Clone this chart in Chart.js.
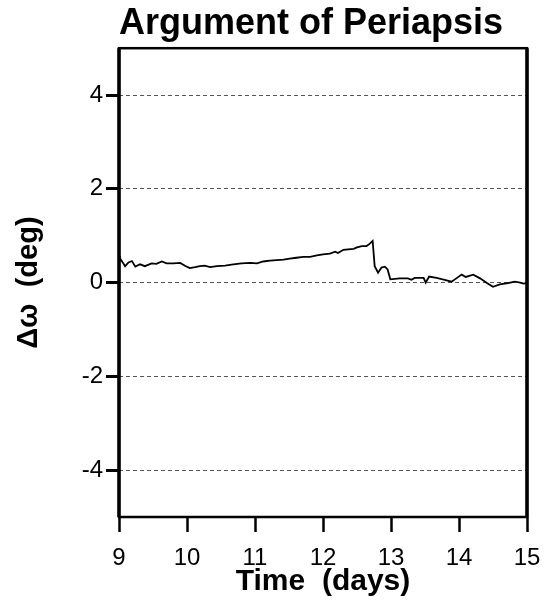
<!DOCTYPE html>
<html>
<head>
<meta charset="utf-8">
<title>Argument of Periapsis</title>
<script src="https://cdn.jsdelivr.net/npm/chart.js@4/dist/chart.umd.min.js"></script>
<style>
  html, body { margin: 0; padding: 0; background: #fff; }
  canvas { display: block; }
</style>
</head>
<body>
<canvas id="grafico" width="545" height="600"></canvas>
<script>
// time in days and change of the argument of periapsis (deg)
const dias = [9.0, 9.01, 9.09, 9.14, 9.19, 9.24, 9.31, 9.38, 9.48, 9.55, 9.63, 9.70, 9.80, 9.90, 9.97,
  10.04, 10.12, 10.19, 10.26, 10.34, 10.44, 10.56, 10.68, 10.80, 10.93, 11.03, 11.12, 11.22, 11.32,
  11.42, 11.51, 11.61, 11.71, 11.81, 11.91, 12.00, 12.10, 12.18, 12.22, 12.30, 12.37, 12.45, 12.50,
  12.57, 12.64, 12.68, 12.73, 12.76, 12.81, 12.86, 12.91, 12.95, 12.99, 13.13, 13.25, 13.30, 13.35,
  13.48, 13.51, 13.56, 13.67, 13.79, 13.89, 13.96, 14.04, 14.10, 14.21, 14.31, 14.41, 14.50, 14.60,
  14.72, 14.82, 14.90, 14.95, 15.0];
const deltaOmega = [0.57, 0.53, 0.35, 0.43, 0.46, 0.34, 0.39, 0.35, 0.41, 0.40, 0.45, 0.41, 0.41, 0.42, 0.36,
  0.31, 0.33, 0.35, 0.36, 0.33, 0.35, 0.36, 0.39, 0.41, 0.42, 0.41, 0.45, 0.47, 0.48,
  0.49, 0.51, 0.53, 0.55, 0.55, 0.58, 0.60, 0.62, 0.66, 0.63, 0.70, 0.71, 0.72, 0.75,
  0.78, 0.78, 0.82, 0.89, 0.35, 0.21, 0.32, 0.34, 0.28, 0.07, 0.09, 0.09, 0.06, 0.10,
  0.10, 0.00, 0.13, 0.10, 0.06, 0.02, 0.09, 0.17, 0.12, 0.17, 0.09, -0.01, -0.09, -0.04,
  -0.01, 0.02, 0.00, -0.02, -0.01];
const ticksY = [-4, -2, 0, 2, 4];

const puntos = dias.map((d, i) => ({ x: d, y: deltaOmega[i] }));

// solid frame around the plot area
const marco = {
  id: 'marco',
  afterDatasetsDraw(chart) {
    const { ctx, chartArea: a } = chart;
    ctx.save();
    ctx.setLineDash([]);
    ctx.strokeStyle = '#000';
    ctx.lineWidth = 2.5;
    ctx.strokeRect(a.left, a.top, a.right - a.left, a.bottom - a.top);
    ctx.lineWidth = 3.5;
    ctx.beginPath();
    ctx.moveTo(a.left, a.top);
    ctx.lineTo(a.left, a.bottom);
    ctx.moveTo(a.right, a.top);
    ctx.lineTo(a.right, a.bottom);
    ctx.stroke();
    ctx.restore();
  }
};

const fuente = 'Liberation Sans, Arial, Helvetica, sans-serif';

new Chart(document.getElementById('grafico'), {
  type: 'line',
  data: {
    datasets: [{
      data: puntos,
      borderColor: '#000',
      borderWidth: 1.8,
      pointRadius: 0,
      tension: 0,
      fill: false
    }]
  },
  options: {
    responsive: false,
    animation: false,
    layout: { padding: { left: 0, right: 18, top: 0, bottom: 0 } },
    plugins: {
      legend: { display: false },
      tooltip: { enabled: false },
      title: {
        display: true,
        text: 'Argument of Periapsis',
        align: 'start',
        fullSize: false,
        color: '#000',
        font: { family: fuente, size: 36, weight: 'bold', lineHeight: 1.2 },
        padding: { top: 2, bottom: 3 }
      }
    },
    scales: {
      x: {
        type: 'linear',
        min: 9,
        max: 15,
        ticks: { stepSize: 1, color: '#000', padding: 12, font: { family: fuente, size: 24 } },
        grid: { drawOnChartArea: false, drawTicks: true, tickLength: 15, tickColor: '#000', tickWidth: 2.5 },
        border: { display: false },
        title: {
          display: true,
          text: 'Time  (days)',
          color: '#000',
          font: { family: fuente, size: 30, weight: 'bold', lineHeight: 1.2 },
          padding: { top: 0, bottom: 0 }
        },
        afterFit(scale) {
          scale.height = 83;
          scale.paddingLeft = 0;
          scale.paddingRight = 0;
        }
      },
      y: {
        type: 'linear',
        min: -5,
        max: 5,
        afterBuildTicks(scale) { scale.ticks = ticksY.map(v => ({ value: v })); },
        ticks: { color: '#000', padding: 3, font: { family: fuente, size: 24 } },
        grid: {
          drawOnChartArea: true,
          color: '#555',
          lineWidth: 1,
          drawTicks: true,
          tickLength: 13,
          tickColor: '#000',
          tickWidth: 3
        },
        border: { display: false, dash: [4, 3] },
        title: {
          display: true,
          text: 'Δω  (deg)',
          color: '#000',
          font: { family: fuente, size: 29, weight: 'bold', lineHeight: 1.2 },
          padding: { top: 12, bottom: 0 }
        },
        afterFit(scale) {
          scale.width = 119;
          scale.paddingTop = 0;
          scale.paddingBottom = 0;
        }
      }
    }
  },
  plugins: [marco]
});
</script>
</body>
</html>
